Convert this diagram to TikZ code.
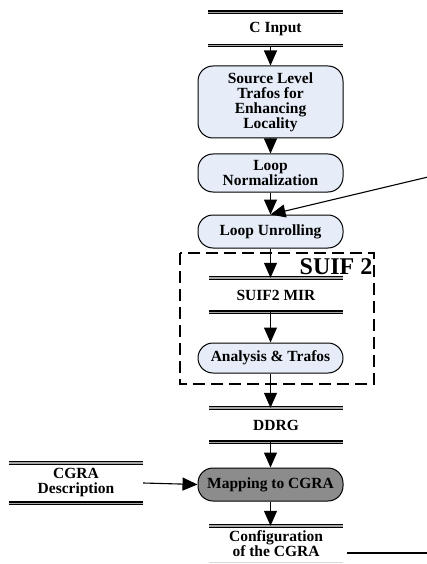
\documentclass[tikz,border=0pt]{standalone}
\usepackage{fontspec}
\setmainfont{Liberation Serif}
\usetikzlibrary{arrows.meta}
\definecolor{boxblue}{HTML}{E6EDF8}
\definecolor{mapgray}{HTML}{8C8C8C}
\begin{document}
\begin{tikzpicture}[x=1pt,y=-1pt,
  txt/.style={font=\fontsize{15.5}{15}\selectfont\bfseries, align=center, inner sep=0pt},
  proc/.style={txt, draw, line width=1pt, rounded corners=15pt, fill=boxblue, minimum width=145pt},
  store/.style={txt, minimum width=134pt},
  dbl/.style={double=black!35, double distance=1.4pt, line width=1.1pt},
  arr/.style={-{Triangle[length=15pt,width=13pt]}, line width=1.1pt}
]
\useasboundingbox (0,0) rectangle (427,564);
% data stores
\node[store, minimum height=33pt] (cin) at (275.5,29) {C Input};
\node[store, minimum height=34pt] (mir) at (276,295) {SUIF2 MIR};
\node[store, minimum height=34pt] (ddrg) at (276,425) {DDRG};
\node[store, minimum height=40pt] (desc) at (76,483) {CGRA\\Description};
\node[store, minimum height=36pt] (conf) at (276,544) {Configuration\\of the CGRA};
\foreach \n in {cin,mir,ddrg,desc}{
  \draw[dbl] (\n.north west) -- (\n.north east);
  \draw[dbl] (\n.south west) -- (\n.south east);
}
\draw[dbl] (conf.north west) -- (conf.north east);
\draw[line width=0.8pt, black!15] (conf.south west) -- (conf.south east);
% processes
\node[proc, minimum height=72pt] (src) at (270.5,102) {Source Level\\Trafos for\\Enhancing\\Locality};
\node[proc, minimum height=38pt] (norm) at (270.5,173) {Loop\\Normalization};
\node[proc, minimum height=33pt] (unr) at (270.5,231.5) {Loop Unrolling};
\node[proc, minimum height=30pt] (ana) at (270.5,358) {Analysis \& Trafos};
\node[proc, minimum height=33pt, fill=mapgray] (map) at (270.5,484.5) {Mapping to CGRA};
% SUIF 2 frame
\draw[dash pattern=on 12pt off 6pt, line width=2pt] (180,253) rectangle (374,384);
\node[font=\fontsize{24}{24}\selectfont\bfseries, inner sep=0pt] (suif) at (336,267) {SUIF 2};
% connectors
\draw[arr] (cin.south -| src.north) -- (src.north);
\draw[arr] (src) -- (norm);
\draw[arr] (norm) -- (unr);
\draw[arr] (unr.south) -- (unr.south |- mir.north);
\draw[arr] (unr.south |- mir.south) -- (ana.north);
\draw[arr] (ana.south) -- (ana.south |- ddrg.north);
\draw[arr] (map.north |- ddrg.south) -- (map.north);
\draw[arr] (map.south) -- (map.south |- conf.north);
\draw[arr] (desc.east) -- (map.west);
\coordinate (fb) at (428,177);
\draw[arr] (fb) -- (unr.north);
\coordinate (out) at (428,553);
\draw[line width=1.1pt] (347,553) -- (out);
\end{tikzpicture}
\end{document}
